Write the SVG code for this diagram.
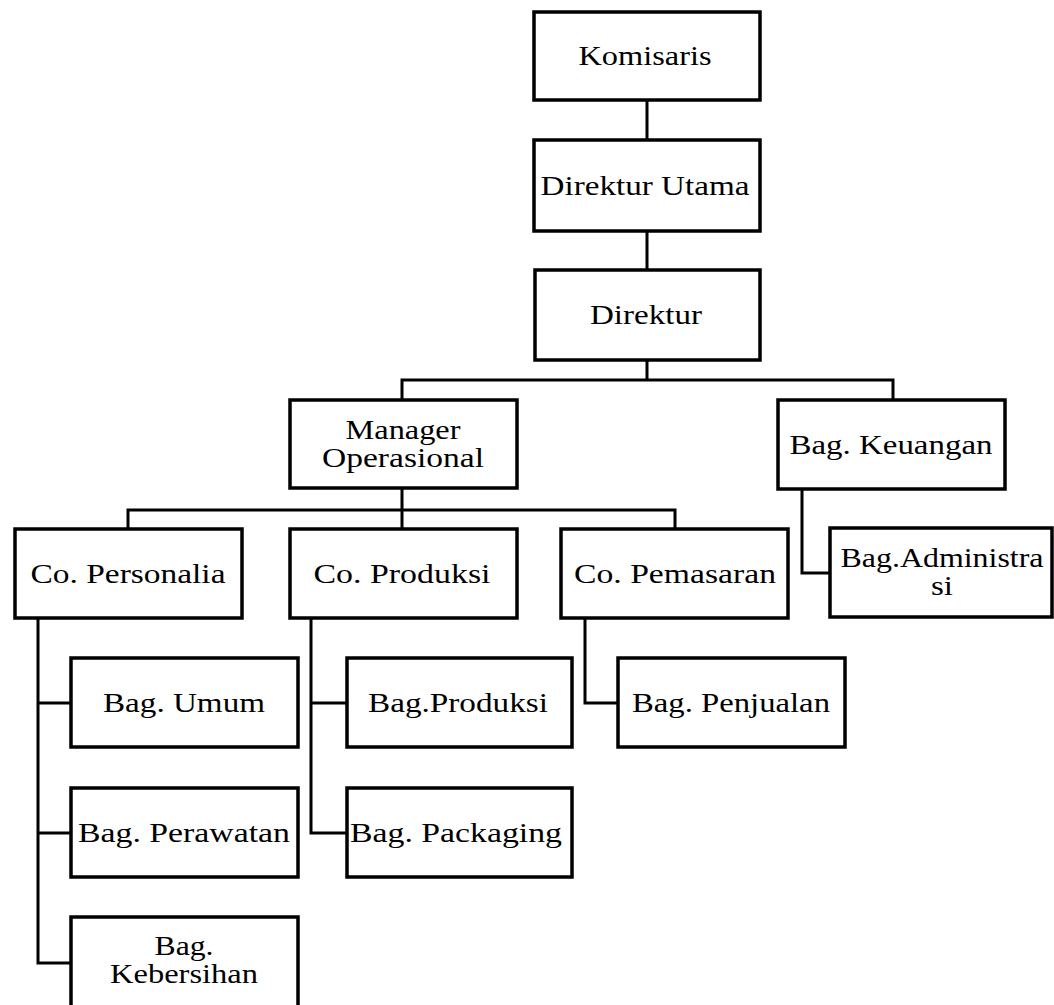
<svg xmlns="http://www.w3.org/2000/svg" width="1054" height="1005" viewBox="0 0 1054 1005">
<style>
.box{fill:#fff;stroke:#000;stroke-width:3.5}
.ln{fill:none;stroke:#000;stroke-width:3;stroke-linejoin:miter}
text{font-family:"Liberation Serif","Times New Roman",serif;font-size:28px;fill:#000;text-anchor:middle}
</style>
<rect width="1054" height="1005" fill="#fff"/>
<g id="connectors">
<path class="ln" d="M647,100V140M647,231V270M647,360V380M402,400V380H893V400"/>
<path class="ln" d="M402,488V510M128,529V510H675V529M402,510V529"/>
<path class="ln" d="M38,618V963H71M38,703H71M38,833H71"/>
<path class="ln" d="M311,618V833H347M311,703H347"/>
<path class="ln" d="M585,618V703H618"/>
<path class="ln" d="M802,489V573H830"/>
</g>
<g id="komisaris"><rect class="box" x="534" y="12" width="226" height="88"/><text x="645" y="65" textLength="133" lengthAdjust="spacingAndGlyphs">Komisaris</text></g>
<g id="direktur-utama"><rect class="box" x="534" y="140" width="226" height="91"/><text x="645" y="195" textLength="209" lengthAdjust="spacingAndGlyphs">Direktur  Utama</text></g>
<g id="direktur"><rect class="box" x="535" y="270" width="225" height="90"/><text x="646" y="324" textLength="112" lengthAdjust="spacingAndGlyphs">Direktur</text></g>
<g id="manager-operasional"><rect class="box" x="290" y="400" width="227" height="88"/><text x="403" y="439" textLength="115" lengthAdjust="spacingAndGlyphs">Manager</text><text x="403" y="467" textLength="162" lengthAdjust="spacingAndGlyphs">Operasional</text></g>
<g id="bag-keuangan"><rect class="box" x="778" y="400" width="227" height="89"/><text x="891" y="454" textLength="203" lengthAdjust="spacingAndGlyphs">Bag.  Keuangan</text></g>
<g id="co-personalia"><rect class="box" x="15" y="529" width="227" height="89"/><text x="128" y="583" textLength="195" lengthAdjust="spacingAndGlyphs">Co.  Personalia</text></g>
<g id="co-produksi"><rect class="box" x="290" y="529" width="227" height="89"/><text x="402" y="583" textLength="177" lengthAdjust="spacingAndGlyphs">Co.  Produksi</text></g>
<g id="co-pemasaran"><rect class="box" x="561" y="529" width="227" height="89"/><text x="675" y="583" textLength="202" lengthAdjust="spacingAndGlyphs">Co.  Pemasaran</text></g>
<g id="bag-administrasi"><rect class="box" x="830" y="528" width="222" height="89"/><text x="942" y="567" textLength="203" lengthAdjust="spacingAndGlyphs">Bag.Administra</text><text x="942" y="595" textLength="22" lengthAdjust="spacingAndGlyphs">si</text></g>
<g id="bag-umum"><rect class="box" x="71" y="658" width="227" height="89"/><text x="184" y="712" textLength="162" lengthAdjust="spacingAndGlyphs">Bag.  Umum</text></g>
<g id="bag-perawatan"><rect class="box" x="71" y="788" width="227" height="89"/><text x="184" y="842" textLength="212" lengthAdjust="spacingAndGlyphs">Bag.  Perawatan</text></g>
<g id="bag-kebersihan"><rect class="box" x="71" y="917" width="227" height="100"/><text x="184" y="955" textLength="59" lengthAdjust="spacingAndGlyphs">Bag.</text><text x="184" y="983" textLength="148" lengthAdjust="spacingAndGlyphs">Kebersihan</text></g>
<g id="bag-produksi"><rect class="box" x="347" y="658" width="225" height="89"/><text x="458" y="712" textLength="180" lengthAdjust="spacingAndGlyphs">Bag.Produksi</text></g>
<g id="bag-packaging"><rect class="box" x="347" y="788" width="225" height="89"/><text x="456" y="842" textLength="212" lengthAdjust="spacingAndGlyphs">Bag.  Packaging</text></g>
<g id="bag-penjualan"><rect class="box" x="618" y="658" width="227" height="89"/><text x="731" y="712" textLength="198" lengthAdjust="spacingAndGlyphs">Bag.  Penjualan</text></g>
</svg>
